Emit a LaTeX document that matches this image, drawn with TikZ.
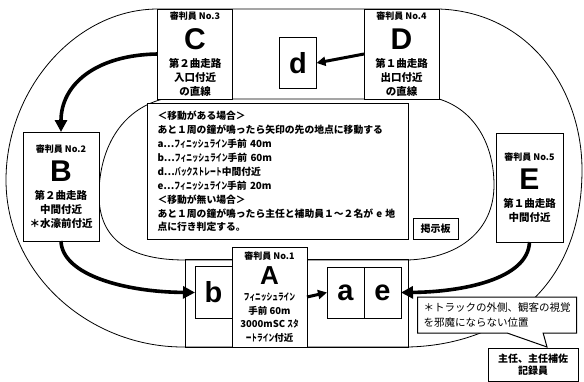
\documentclass[tikz,border=0pt]{standalone}
\usepackage{fontspec}
\usepackage{graphicx}
\setmainfont{Noto Sans CJK JP}
\newfontfamily\letterfont{Liberation Sans}
\usetikzlibrary{arrows.meta,positioning,shapes.callouts}

\newcommand\judgehead[1]{{\fontsize{9}{10}\selectfont #1}}
\newcommand\judgeletter[1]{{\letterfont\bfseries\fontsize{30}{30}\selectfont #1}}
\newcommand\narrowkana[1]{\scalebox{0.6}[1]{#1}}

\begin{document}
\begin{tikzpicture}[
  x=1pt,
  y=-1pt,
  every node/.style={
    font=\bfseries\fontsize{10.5}{14}\selectfont,
    text=black
  },
  track/.style={
    draw=black,
    line width=0.8pt
  },
  judge/.style={
    draw=black,
    line width=1pt,
    fill=white,
    align=center,
    inner sep=0pt,
    outer sep=0pt,
    minimum width=75pt,
    minimum height=90pt
  },
  spot/.style={
    draw=black,
    line width=1pt,
    fill=white,
    inner sep=0pt,
    outer sep=0pt,
    minimum width=37pt,
    minimum height=51pt,
    font=\letterfont\bfseries\fontsize{29}{29}\selectfont
  },
  panel/.style={
    draw=black,
    line width=1pt,
    fill=white,
    inner sep=0pt
  },
  move/.style={
    draw=black,
    line width=3.6pt,
    -{Triangle[length=12pt,width=12pt]}
  },
  shortmove/.style={
    draw=black,
    line width=3pt,
    -{Triangle[length=9pt,width=9pt]}
  }
]
  \useasboundingbox (0,0) rectangle (584,381);

  \draw[track] (158,9) -- (439,9)
    .. controls (530,12) and (582,90) .. (582,170)
    .. controls (582,290) and (500,345) .. (408,347) -- (183,347)
    .. controls (90,347) and (6,275) .. (6,180)
    .. controls (6,90) and (75,9) .. cycle;
  \draw[track] (163,99) -- (439,99)
    .. controls (475,110) and (494,145) .. (494,185)
    .. controls (494,230) and (460,258) .. (408,260) -- (185,260)
    .. controls (130,260) and (99,240) .. (99,195)
    .. controls (99,150) and (120,110) .. cycle;
  \draw[track, line width=1pt] (185,259) rectangle (408,347);

  \node[judge] (C) at (195,54)
    {\judgehead{審判員 No.3}\\[7pt]\judgeletter{C}\\[4pt]第２曲走路\\入口付近\\の直線};
  \node[judge] (D) at (401.5,54)
    {\judgehead{審判員 No.4}\\[7pt]\judgeletter{D}\\[4pt]第１曲走路\\出口付近\\の直線};
  \node[judge, minimum width=76pt, minimum height=109pt] (B) at (61,186.5)
    {\judgehead{審判員 No.2}\\[7pt]\judgeletter{B}\\[4pt]第２曲走路\\中間付近\\＊水濠前付近};
  \node[judge, minimum width=67pt, minimum height=109pt] (E) at (529.5,187.5)
    {\judgehead{審判員 No.5}\\[7pt]\judgeletter{E}\\[4pt]第１曲走路\\中間付近};
  \node[judge, minimum height=100pt, font=\bfseries\fontsize{9.5}{13.5}\selectfont] (A) at (269.5,297)
    {\judgehead{審判員 No.1}\\[5pt]{\letterfont\bfseries\fontsize{26}{26}\selectfont A}\\[3pt]\narrowkana{フィニッシュライン}\\手前 60m\\3000mSC \narrowkana{スタ}\\\narrowkana{ートライン}付近};

  \node[spot] (d) at (298,63) {d};
  \node[spot, minimum height=52pt] (b) at (213.5,292.5) {b};
  \node[spot] (a) at (345.5,292.5) {a};
  \node[spot, right=0pt of a] (e) {e};

  \node[panel, anchor=north west, align=left, text width=241pt,
    inner xsep=10pt, inner ysep=7pt, minimum height=136pt,
    font=\bfseries\fontsize{9.8}{13.9}\selectfont] (rules) at (147,103)
    {＜移動がある場合＞\\
     あと１周の鐘が鳴ったら矢印の先の地点に移動する\\
     a…\narrowkana{フィニッシュライン}手前 40m\\
     b…\narrowkana{フィニッシュライン}手前 60m\\
     d…\narrowkana{バックストレート}中間付近\\
     e…\narrowkana{フィニッシュライン}手前 20m\\
     ＜移動が無い場合＞\\
     あと１周の鐘が鳴ったら主任と補助員１～２名が e 地\\
     点に行き判定する。};
  \node[panel, minimum width=45pt, minimum height=21pt,
    font=\bfseries\fontsize{10}{12}\selectfont] (board) at (435.5,228.5) {掲示板};

  \node[panel, rectangle callout, callout absolute pointer={(547,347)},
    callout pointer width=36pt, minimum width=159pt, minimum height=36pt,
    align=left, font=\fontsize{10.5}{15}\selectfont] (note) at (497,315)
    {＊トラックの外側、観客の視覚\\を邪魔にならない位置};
  \node[panel, minimum width=90pt, minimum height=33pt, align=center,
    font=\bfseries\fontsize{10}{11.5}\selectfont] (chief) at (533,364.5)
    {主任、主任補佐\\記録員};

  \draw[move] (C.west) .. controls (95,55) and (61,85) .. (B.north);
  \draw[move] (B.south) .. controls (62,275) and (125,292) .. (b.west);
  \draw[move] (E.south) .. controls (528,280) and (460,292) .. (e.east);
  \draw[shortmove] (A.east) -- (a.west);
  \draw[shortmove] (D.west) -- (d.east);
\end{tikzpicture}
\end{document}
